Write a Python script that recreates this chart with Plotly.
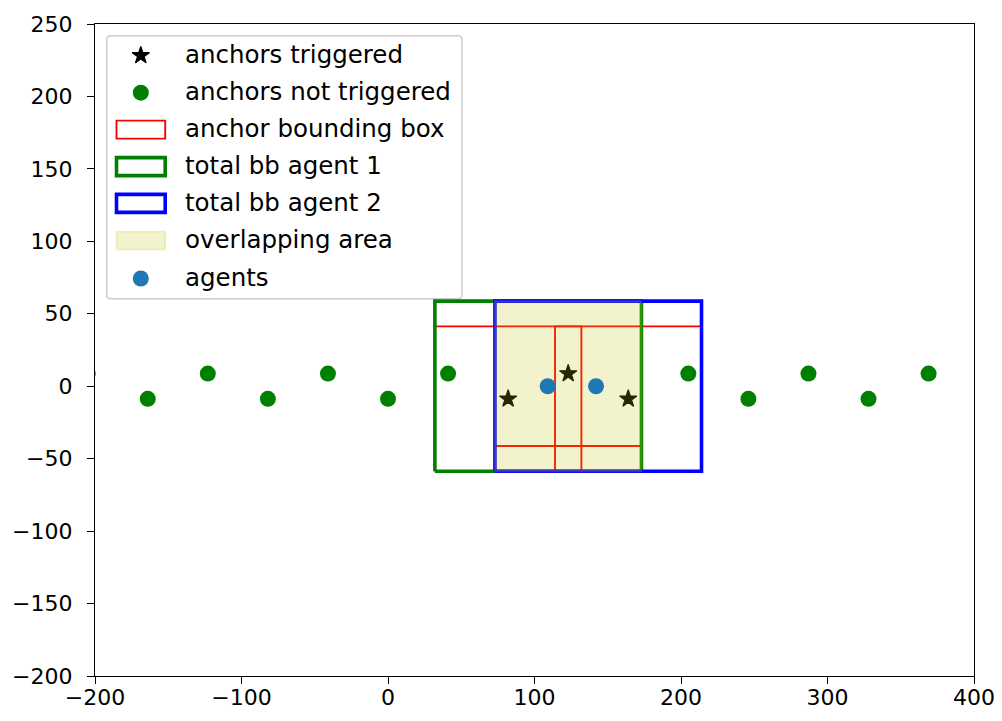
import plotly.graph_objects as go

# ---- data -------------------------------------------------------------
anchor_x = [-205, -164, -123, -82, -41, 0, 41, 82, 123, 164, 205, 246, 287, 328, 369]
anchor_y = [8.7, -8.7, 8.7, -8.7, 8.7, -8.7, 8.7, -8.7, 8.7, -8.7, 8.7, -8.7, 8.7, -8.7, 8.7]
triggered_idx = [7, 8, 9]
agent1_anchors = [7, 8]
agent2_anchors = [8, 9]
anchor_range = 50
agents_x = [109, 142]
agents_y = [0, 0]

legend_labels = [
    "anchors triggered",
    "anchors not triggered",
    "anchor bounding box",
    "total bb agent 1",
    "total bb agent 2",
    "overlapping area",
    "agents",
]

# ---- geometry helpers -------------------------------------------------
W, H = 1002, 721
L, R, T, B = 95, 974, 24, 676


def to_paper(px, py):
    return (px - L) / (R - L), (B - py) / (B - T)


def anchor_box(i):
    return (anchor_x[i] - anchor_range, anchor_x[i] + anchor_range,
            anchor_y[i] - anchor_range, anchor_y[i] + anchor_range)


def union(idx):
    boxes = [anchor_box(i) for i in idx]
    return (min(b[0] for b in boxes), max(b[1] for b in boxes),
            min(b[2] for b in boxes), max(b[3] for b in boxes))


def rect_xy(box):
    x0, x1, y0, y1 = box
    return [x0, x1, x1, x0, x0], [y0, y0, y1, y1, y0]


FONT = "DejaVu Sans"
GREEN = "#008000"
BLUE = "#0000ff"
RED = "#ff0000"
AGENT = "#1f77b4"
OVL = "rgba(191,191,0,0.2)"
STAR = dict(symbol="star", size=13, color="black", line=dict(width=1.2, color="black"))

fig = go.Figure()

trig_x = [anchor_x[i] for i in triggered_idx]
trig_y = [anchor_y[i] for i in triggered_idx]
not_x = [x for i, x in enumerate(anchor_x) if i not in triggered_idx]
not_y = [y for i, y in enumerate(anchor_y) if i not in triggered_idx]

fig.add_trace(go.Scatter(x=trig_x, y=trig_y, mode="markers", marker=STAR, showlegend=False))
fig.add_trace(go.Scatter(x=not_x, y=not_y, mode="markers",
                         marker=dict(symbol="circle", size=16, color=GREEN, line=dict(width=0)),
                         showlegend=False))

# bounding box of each triggered anchor
for i in triggered_idx:
    bx, by = rect_xy(anchor_box(i))
    fig.add_trace(go.Scatter(x=bx, y=by, mode="lines",
                             line=dict(color=RED, width=1.9), showlegend=False))

box1 = union(agent1_anchors)
box2 = union(agent2_anchors)
bx, by = rect_xy(box1)
fig.add_trace(go.Scatter(x=bx, y=by, mode="lines",
                         line=dict(color=GREEN, width=3.6), showlegend=False))
bx, by = rect_xy(box2)
fig.add_trace(go.Scatter(x=bx, y=by, mode="lines",
                         line=dict(color=BLUE, width=3.6), showlegend=False))

overlap = (max(box1[0], box2[0]), min(box1[1], box2[1]),
           max(box1[2], box2[2]), min(box1[3], box2[3]))
bx, by = rect_xy(overlap)
fig.add_trace(go.Scatter(x=bx, y=by, mode="lines", fill="toself", fillcolor=OVL,
                         line=dict(color=OVL, width=1.9), showlegend=False))

fig.add_trace(go.Scatter(x=agents_x, y=agents_y, mode="markers",
                         marker=dict(symbol="circle", size=16, color=AGENT, line=dict(width=0)),
                         showlegend=False))

# ---- legend (drawn by hand, matplotlib style) -------------------------
row_y = [55.5, 92.7, 129.6, 166.6, 203.4, 240.6, 278.5]
icon_cx = 140.8
text_x = 183

shapes = []
annotations = []


def P(px, py):
    a, b = to_paper(px, py)
    return f"{a:.5f},{b:.5f}"


# frame with rounded corners
fx0, fy0, fx1, fy1, rr = 106.7, 35.7, 462.0, 298.7, 4.0
path = (f"M{P(fx0 + rr, fy0)} L{P(fx1 - rr, fy0)} Q{P(fx1, fy0)} {P(fx1, fy0 + rr)} "
        f"L{P(fx1, fy1 - rr)} Q{P(fx1, fy1)} {P(fx1 - rr, fy1)} "
        f"L{P(fx0 + rr, fy1)} Q{P(fx0, fy1)} {P(fx0, fy1 - rr)} "
        f"L{P(fx0, fy0 + rr)} Q{P(fx0, fy0)} {P(fx0 + rr, fy0)} Z")
shapes.append(dict(type="path", xref="paper", yref="paper", path=path,
                   fillcolor="rgba(255,255,255,0.8)", line=dict(color="#cccccc", width=1.5),
                   layer="below"))

icon_styles = {
    2: dict(line=dict(color=RED, width=1.9), fillcolor="rgba(0,0,0,0)"),
    3: dict(line=dict(color=GREEN, width=3.6), fillcolor="rgba(0,0,0,0)"),
    4: dict(line=dict(color=BLUE, width=3.6), fillcolor="rgba(0,0,0,0)"),
    5: dict(line=dict(color=OVL, width=1.9), fillcolor=OVL),
}
for k, st in icon_styles.items():
    x0, y0 = to_paper(116.5, row_y[k] - 9)
    x1, y1 = to_paper(165.2, row_y[k] + 9)
    shapes.append(dict(type="rect", xref="paper", yref="paper",
                       x0=x0, x1=x1, y0=y1, y1=y0, layer="above", **st))

for k, lab in enumerate(legend_labels):
    ax, ay = to_paper(text_x, row_y[k] - 1)
    annotations.append(dict(x=ax, y=ay, xref="paper", yref="paper", text=lab,
                            showarrow=False, xanchor="left", yanchor="middle",
                            font=dict(family=FONT, size=24.5, color="black")))

# legend marker icons on an overlay axis spanning the plot area
marker_rows = [(0, STAR),
               (1, dict(symbol="circle", size=16, color=GREEN, line=dict(width=0))),
               (6, dict(symbol="circle", size=16, color=AGENT, line=dict(width=0)))]
for k, mk in marker_rows:
    ix, iy = to_paper(icon_cx, row_y[k])
    fig.add_trace(go.Scatter(x=[ix], y=[iy], mode="markers", xaxis="x2", yaxis="y2",
                             marker=mk, showlegend=False, cliponaxis=False))

axis_common = dict(showline=True, mirror=True, linecolor="black", linewidth=1.3,
                   ticks="outside", ticklen=7, tickwidth=1.3, tickcolor="black",
                   showgrid=False, zeroline=False, automargin=False,
                   tickfont=dict(family=FONT, size=22, color="black"))

fig.update_layout(
    width=W, height=H, autosize=False,
    margin=dict(l=L, r=W - R, t=T, b=H - B, pad=0),
    paper_bgcolor="white", plot_bgcolor="white",
    showlegend=False,
    xaxis=dict(range=[-200, 400], tickvals=[-200, -100, 0, 100, 200, 300, 400],
               ticklabelstandoff=-6, **axis_common),
    yaxis=dict(range=[-200, 250], tickvals=list(range(-200, 251, 50)),
               ticklabelstandoff=10, **axis_common),
    xaxis2=dict(overlaying="x", range=[0, 1], visible=False, fixedrange=True),
    yaxis2=dict(overlaying="y", range=[0, 1], visible=False, fixedrange=True),
    shapes=shapes,
    annotations=annotations,
)

fig.write_html("out.html")
